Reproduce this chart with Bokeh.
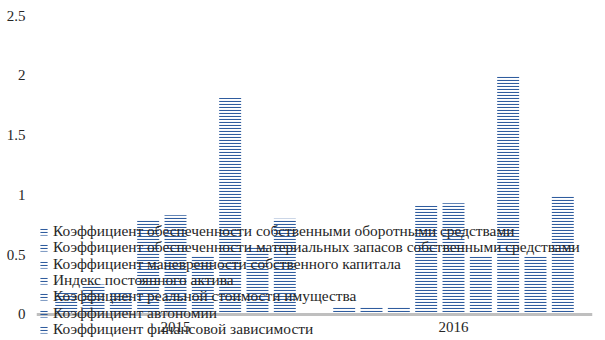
from bokeh.plotting import figure
from bokeh.models import ColumnDataSource, FactorRange, Legend, LegendItem, FixedTicker, Span
from bokeh.transform import dodge
from bokeh.embed import file_html
from bokeh.resources import INLINE

years = ["2015", "2016"]
series_names = [
    "Коэффициент обеспеченности собственными оборотными средствами",
    "Коэффициент обеспеченности материальных запасов собственными средствами",
    "Коэффициент маневренности собственного капитала",
    "Индекс постоянного актива",
    "Коэффициент реальной стоимости имущества",
    "Коэффициент автономии",
    "Коэффициент финансовой зависимости",
    "Коэффициент 8",
    "Коэффициент 9",
]
s1 = [0.18, 0.07]
s2 = [0.25, 0.07]
s3 = [0.18, 0.07]
s4 = [0.79, 0.91]
s5 = [0.83, 0.93]
s6 = [0.49, 0.485]
s7 = [1.81, 2.0]
s8 = [0.57, 0.485]
s9 = [0.80, 1.0]
series_values = [s1, s2, s3, s4, s5, s6, s7, s8, s9]
legend_count = 7
y_ticks = [0, 0.5, 1, 1.5, 2, 2.5]
y_tick_labels = ["0", "0.5", "1", "1.5", "2", "2.5"]

data = {"year": years, "zero": [0, 0]}
for i, vals in enumerate(series_values):
    data[f"s{i}"] = vals
source = ColumnDataSource(data)

p = figure(x_range=FactorRange(*years), y_range=(-0.2174, 2.5), width=605, height=340,
           output_backend="svg", toolbar_location=None,
           min_border_left=36, min_border_right=13, min_border_top=15, min_border_bottom=0)
p.outline_line_color = None
p.xgrid.grid_line_color = None
p.ygrid.grid_line_color = None
p.xaxis.visible = False

color = "#2F5C9E"
step = 0.0983
renderers = []
for i in range(len(series_values)):
    r = p.vbar(x=dodge("year", (i - 4) * step, range=p.x_range), top=f"s{i}", width=0.079,
               source=source, fill_color=None, line_color=None,
               hatch_pattern="-", hatch_color=color, hatch_scale=3, hatch_weight=1.1)
    renderers.append(r)

# category axis line and labels
p.add_layout(Span(location=0, dimension="width", line_color="#BFBFBF", line_width=3))
p.text(x="year", y="zero", text="year", source=source, y_offset=13,
       text_align="center", text_baseline="middle",
       text_font={"value": "Liberation Serif"}, text_font_size="15px", text_color="#262626")

# legend: one row per Legend so the row pitch matches the reference (16.33 px)
row_pitch = 16.33
for k in range(legend_count):
    lg = Legend(items=[LegendItem(label=series_names[k], renderers=[renderers[k]])],
                location=(3, round(2 + (legend_count - 1 - k) * row_pitch)))
    lg.label_text_font = "Liberation Serif"
    lg.label_text_font_size = "15.4px"
    lg.label_text_color = "#262626"
    lg.glyph_width = 9
    lg.glyph_height = 9
    lg.label_height = 16
    lg.label_standoff = 5
    lg.spacing = 0
    lg.padding = 0
    lg.margin = 0
    lg.background_fill_alpha = 0
    lg.border_line_color = None
    p.add_layout(lg, "center")

# y axis
p.yaxis.ticker = FixedTicker(ticks=y_ticks)
p.yaxis.major_label_overrides = {t: l for t, l in zip(y_ticks, y_tick_labels)}
p.yaxis.axis_line_color = None
p.yaxis.major_tick_line_color = None
p.yaxis.minor_tick_line_color = None
p.yaxis.major_label_text_font = "Liberation Serif"
p.yaxis.major_label_text_font_size = "15px"
p.yaxis.major_label_text_color = "#262626"
p.yaxis.major_label_standoff = 5

open("out.html", "w").write(file_html(p, INLINE))
